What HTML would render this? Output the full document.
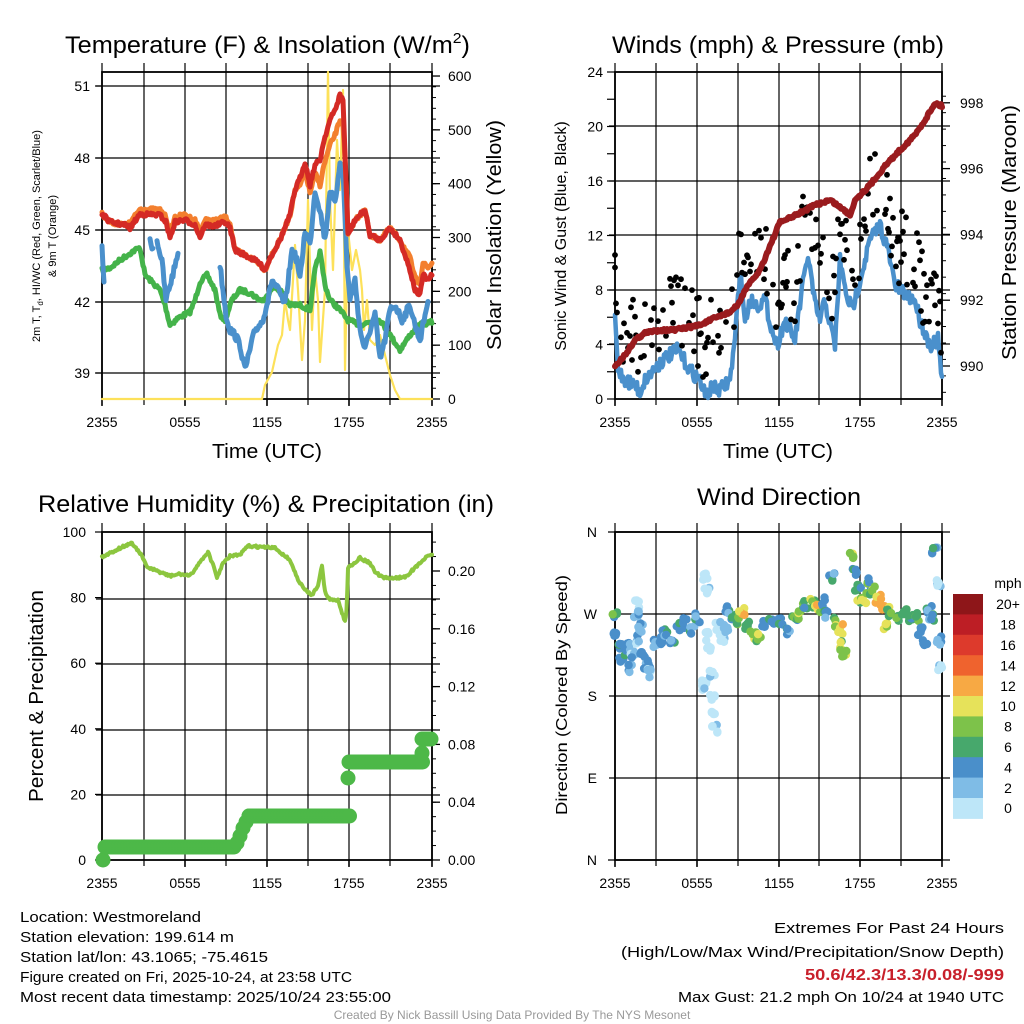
<!DOCTYPE html>
<html><head><meta charset="utf-8"><style>
html,body{margin:0;padding:0;background:#fff}
svg{display:block;font-family:"Liberation Sans",sans-serif}
</style></head><body>
<svg id="s" width="1024" height="1024" viewBox="0 0 1024 1024" xmlns="http://www.w3.org/2000/svg">
<rect width="1024" height="1024" fill="#fff"/>
<g id="g"></g>
<text x="65" y="53" font-size="24" textLength="405" lengthAdjust="spacingAndGlyphs">Temperature (F) &amp; Insolation (W/m<tspan dy="-10" font-size="15">2</tspan><tspan dy="10">)</tspan></text>
<text x="612" y="53" font-size="24" textLength="332" lengthAdjust="spacingAndGlyphs">Winds (mph) &amp; Pressure (mb)</text>
<text x="38" y="512" font-size="24" textLength="456" lengthAdjust="spacingAndGlyphs">Relative Humidity (%) &amp; Precipitation (in)</text>
<text x="697" y="505" font-size="24" textLength="164" lengthAdjust="spacingAndGlyphs">Wind Direction</text>
<text x="212" y="458" font-size="20" textLength="110" lengthAdjust="spacingAndGlyphs">Time (UTC)</text>
<text x="723" y="458" font-size="20" textLength="110" lengthAdjust="spacingAndGlyphs">Time (UTC)</text>
<text transform="translate(40,236) rotate(-90)" font-size="11" text-anchor="middle">2m T, T<tspan dy="3" font-size="8">d</tspan><tspan dy="-3">, HI/WC (Red, Green, Scarlet/Blue)</tspan></text>
<text transform="translate(56,236) rotate(-90)" font-size="11" text-anchor="middle">&amp; 9m T (Orange)</text>
<text transform="translate(501,350) rotate(-90)" font-size="20" textLength="230" lengthAdjust="spacingAndGlyphs">Solar Insolation (Yellow)</text>
<text transform="translate(566,236) rotate(-90)" font-size="16" text-anchor="middle">Sonic Wind &amp; Gust (Blue, Black)</text>
<text transform="translate(1016,360) rotate(-90)" font-size="20" textLength="255" lengthAdjust="spacingAndGlyphs">Station Pressure (Maroon)</text>
<text transform="translate(43,802) rotate(-90)" font-size="20" textLength="212" lengthAdjust="spacingAndGlyphs">Percent &amp; Precipitation</text>
<text transform="translate(567,815) rotate(-90)" font-size="16" textLength="240" lengthAdjust="spacingAndGlyphs">Direction (Colored By Speed)</text>
<g font-size="15">
<text x="20" y="922" textLength="181" lengthAdjust="spacingAndGlyphs">Location: Westmoreland</text>
<text x="20" y="942" textLength="214" lengthAdjust="spacingAndGlyphs">Station elevation: 199.614 m</text>
<text x="20" y="962" textLength="248" lengthAdjust="spacingAndGlyphs">Station lat/lon: 43.1065; -75.4615</text>
<text x="20" y="982" textLength="332" lengthAdjust="spacingAndGlyphs">Figure created on Fri, 2025-10-24, at 23:58 UTC</text>
<text x="20" y="1002" textLength="371" lengthAdjust="spacingAndGlyphs">Most recent data timestamp: 2025/10/24 23:55:00</text>
<text x="774" y="933" textLength="230" lengthAdjust="spacingAndGlyphs">Extremes For Past 24 Hours</text>
<text x="621" y="957" textLength="383" lengthAdjust="spacingAndGlyphs">(High/Low/Max Wind/Precipitation/Snow Depth)</text>
<text x="805" y="980" fill="#c8202b" font-weight="bold" font-size="16" textLength="199" lengthAdjust="spacingAndGlyphs">50.6/42.3/13.3/0.08/-999</text>
<text x="678" y="1002" textLength="326" lengthAdjust="spacingAndGlyphs">Max Gust: 21.2 mph On 10/24 at 1940 UTC</text>
</g>
<text x="512" y="1019" font-size="12" fill="#999" text-anchor="middle">Created By Nick Bassill Using Data Provided By The NYS Mesonet</text>
</svg>
<script>
var G=document.getElementById('g'),out='';
var seed=7;function R(){seed=(seed*16807)%2147483647;return (seed-1)/2147483646;}
function add(s){out+=s;}
function line(x1,y1,x2,y2,c,w){add('<line x1="'+x1+'" y1="'+y1+'" x2="'+x2+'" y2="'+y2+'" stroke="'+c+'" stroke-width="'+w+'"/>');}
function txt(x,y,t,a,fs){add('<text x="'+x+'" y="'+y+'" font-size="'+(fs||14)+'" text-anchor="'+(a||'middle')+'">'+t+'</text>');}
function interp(k,step){var p=[];for(var i=0;i<k.length-1;i++){var a=k[i],b=k[i+1];var n=Math.max(1,Math.round((b[0]-a[0])/step));for(var j=0;j<n;j++){var t=j/n;p.push([a[0]+(b[0]-a[0])*t,a[1]+(b[1]-a[1])*t]);}}p.push(k[k.length-1]);return p;}
function noisy(k,amp,step){return interp(k,step||1).map(function(p){return [p[0],p[1]+(R()-0.5)*2*amp];});}
function pl(p,c,w){add('<polyline fill="none" stroke="'+c+'" stroke-width="'+w+'" stroke-linejoin="round" stroke-linecap="round" points="'+p.map(function(q){return q[0].toFixed(1)+','+q[1].toFixed(1)}).join(' ')+'"/>');}
function dot(x,y,r,c){add('<circle cx="'+x.toFixed(1)+'" cy="'+y.toFixed(1)+'" r="'+r+'" fill="'+c+'"/>');}
var XT=['2355','0555','1155','1755','2355'];
function frame(L,T,Rr,B,hy,vx,xt){
 vx.forEach(function(x){line(x,T-9,x,B+6,'#000',1.2);});
 hy.forEach(function(y){line(L-6,y,Rr+8,y,'#000',1.2);});
 add('<rect x="'+L+'" y="'+T+'" width="'+(Rr-L)+'" height="'+(B-T)+'" fill="none" stroke="#000" stroke-width="1.8"/>');
 xt.forEach(function(x,i){line(x,B,x,B+7,'#000',1.5);txt(x,B+28,XT[i],'middle',14);});
}
var V1=[102,144,185,226,267,308,349,390,432];
// Panel 1
frame(102,72,432,399,[86,158,230,302,373],V1,[102,185,267,349,432]);
[[86,'51'],[158,'48'],[230,'45'],[302,'42'],[373,'39']].forEach(function(a){txt(90,a[0]+5,a[1],'end',14);line(95,a[0],102,a[0],'#000',1.2);});
for(var v=0;v<=600;v+=100){var y=399-v*0.5383;line(432,y,440,y,'#000',1.3);txt(448,y+5,v,'start',14);}
for(var v=0;v<=600;v+=20){var y=399-v*0.5383;line(432,y,436,y,'#000',1);}
pl([[102,399],[262,399],[265,385],[272,372],[278,345],[282,335],[285,300],[288,320],[290,330],[293,280],[295,245],[298,290],[302,360],[305,320],[308,200],[312,330],[315,270],[318,300],[320,362],[325,290],[328,72],[330,200],[333,270],[337,140],[340,190],[343,90],[345,370],[348,230],[352,270],[356,250],[360,270],[362,290],[364,330],[367,300],[370,340],[375,345],[380,335],[385,355],[390,375],[395,390],[400,399],[432,399]],'#fde15a',2.2);
pl(noisy([[102,270],[110,268],[120,260],[135,250],[140,248],[145,275],[155,285],[160,290],[165,305],[170,325],[178,318],[190,312],[195,300],[200,282],[207,275],[215,290],[220,315],[225,320],[232,300],[240,290],[250,293],[260,300],[265,300],[272,287],[280,290],[290,305],[300,305],[310,310],[315,270],[320,252],[325,285],[330,300],[340,310],[348,320],[360,325],[370,322],[380,320],[390,335],[400,350],[410,335],[420,325],[432,322]],2),'#44b34a',5);
[[[102,245],[104,285]],[[150,240],[153,248]],[[157,240],[162,262],[166,300],[170,285],[174,270],[178,252]],
[[220,265],[223,290],[226,315],[230,330],[235,335],[240,345],[245,370],[250,350],[255,330],[262,322],[268,300],[272,280],[278,290],[285,305],[292,250],[297,260],[300,280],[305,230],[310,245],[315,190],[320,210],[325,240],[330,190],[335,205],[340,160],[343,170],[347,265],[350,300],[355,280],[360,330],[365,350],[370,330],[375,315],[380,360],[385,340],[390,310],[395,305],[402,320],[410,305],[415,325],[420,340],[425,315],[428,300]]].forEach(function(k){pl(noisy(k,4),'#4a90cc',5);});
var red=[[102,214],[110,222],[125,225],[130,228],[140,214],[160,215],[166,222],[170,238],[175,222],[185,220],[195,225],[200,237],[205,225],[215,226],[225,222],[230,228],[235,250],[245,255],[258,262],[265,270],[270,258],[280,240],[290,215],[295,190],[300,178],[305,162],[310,185],[315,165],[320,160],[324,140],[330,120],[335,110],[340,95],[343,100],[346,180],[348,235],[355,220],[365,210],[370,235],[380,240],[390,228],[400,240],[410,270],[415,290],[420,295],[423,275],[428,280],[432,275]];
var org=red.map(function(p){var x=p[0],y=p[1];if(x>=130&&x<=230)y-=5;if(x>=300&&x<=345)y+=(x>=320?25:8);if(x>=405)y-=12;return [x,y];});
pl(noisy(org,2),'#f37f2e',5);
pl(noisy(red,2),'#d42a25',5);
// Panel 2
var V2=[615,656,697,738,779,819,860,901,942];
frame(615,72,942,399,[126,181,235,290,344],V2,[615,697,779,860,942]);
for(var v=0;v<=24;v+=4){var y=399-v*13.625;txt(603,y+5,v,'end',14);}
for(var v=0;v<=24;v+=2){var y=399-v*13.625;line(607,y,615,y,'#000',1.2);}
for(var v=990;v<=998;v+=2){var y=366-(v-990)*32.9;line(942,y,950,y,'#000',1.3);txt(960,y+5,v,'start',14);}
for(var v=989.2;v<=998.6;v+=0.5){var y=366-(v-990)*32.9;line(942,y,946,y,'#000',1);}
var bl=[[615,318],[618,370],[625,380],[635,385],[640,392],[645,380],[655,368],[665,358],[678,350],[690,370],[700,380],[705,395],[712,388],[720,390],[730,380],[735,340],[740,270],[745,320],[750,300],[758,305],[765,300],[772,330],[777,345],[785,320],[795,340],[802,290],[808,255],[815,305],[820,320],[825,300],[830,325],[835,345],[840,260],[845,290],[852,310],[860,280],[870,240],[880,225],[888,250],[895,285],[905,295],[915,300],[920,320],[930,345],[938,340],[942,380]];
var bp=noisy(bl,7,1);
pl(bp,'#4a90cc',4.5);
for(var i=0;i<bp.length;i+=1){if(R()<0.6){var p=bp[i];var y=p[1]-8-R()*75;if(y<80)continue;dot(p[0],y,2.9,'#000');}}
dot(615,255,2.9,'#000');
pl(noisy([[615,366],[625,355],[635,340],[645,333],[660,330],[675,330],[685,328],[700,325],[715,318],[730,312],[738,305],[745,290],[760,270],[780,222],[790,218],[800,213],[815,205],[830,200],[840,207],[850,215],[855,200],[870,185],[885,166],[900,150],[915,135],[925,120],[935,103],[942,106]],1.5),'#9a1b1e',6);
// Panel 3
frame(102,532,432,860,[599,664,730,795],V1,[102,185,267,349,432]);
for(var v=0;v<=100;v+=20){var y=860-v*3.28;txt(86,y+5,v,'end',14);line(95,y,102,y,'#000',1.2);}
for(var v=0;v<=20;v+=4){var y=860-v*14.45;line(432,y,440,y,'#000',1.3);txt(448,y+5,(v/100).toFixed(2),'start',14);}
for(var v=0;v<=22;v+=1){var y=860-v*14.45;line(432,y,436,y,'#000',1);}
pl(noisy([[102,557],[110,553],[120,548],[132,543],[140,553],[148,568],[160,572],[170,576],[180,574],[190,576],[200,562],[208,552],[213,565],[217,578],[222,565],[230,556],[240,555],[248,546],[260,547],[275,548],[290,560],[298,580],[305,590],[312,595],[318,585],[322,566],[325,592],[330,600],[338,600],[345,622],[346.5,610],[348,568],[355,562],[360,558],[370,563],[375,572],[383,578],[395,578],[405,577],[415,568],[425,558],[432,555]],1.2),'#8cc63f',4);
var pc='#4db848',pr=7.5;dot(103,860,pr,pc);
for(var x=105;x<=234;x+=1.5)dot(x,847,pr,pc);
[[237,843],[240,836],[243,828],[246,822],[249,816]].forEach(function(p){dot(p[0],p[1],pr,pc);});
for(var x=249;x<=350;x+=1.5)dot(x,816,pr,pc);
dot(348,778,pr,pc);
for(var x=349;x<=423;x+=1.5)dot(x,762,pr,pc);
dot(422,753,pr,pc);
for(var x=422;x<=431;x+=1.5)dot(x,739,pr,pc);
// Panel 4
frame(615,532,942,860,[614,696,778],V2,[615,697,779,860,942]);
line(608,532,950,532,'#000',1.2);line(608,860,950,860,'#000',1.2);
[[532,'N'],[614,'W'],[696,'S'],[778,'E'],[860,'N']].forEach(function(a){txt(597,a[0]+5,a[1],'end',14);});
var C=['#bde6f8','#7fbce6','#4a8fca','#47a86c','#7dc24a','#e6e25a','#f7a944','#ef632e','#dd3a2c','#bd1e25','#8e1619'];
var pts=[[615,614,3],[615,634,2],[620,648,2],[622,660,2],[628,648,2],[630,668,1],[633,655,1],[637,640,1],[640,627,1],[638,605,0],[636,613,1],[642,657,2],[647,665,2],[650,673,1],[656,645,1],[660,640,2],[665,633,2],[672,640,2],[678,627,2],[685,623,2],[693,630,2],[698,618,2],[705,575,0],[707,589,0],[706,637,0],[710,650,0],[705,680,0],[703,688,0],[712,673,0],[712,700,0],[713,717,0],[715,730,0],[718,627,0],[722,637,0],[725,630,1],[728,611,2],[733,618,3],[737,620,4],[742,613,5],[748,625,3],[752,636,4],[758,637,4],[765,622,2],[772,620,2],[780,620,2],[787,630,2],[795,618,3],[800,615,4],[805,605,3],[812,603,4],[818,608,5],[822,602,2],[826,613,2],[832,577,2],[836,622,4],[840,629,5],[843,646,4],[845,655,4],[853,555,4],[855,573,2],[858,586,3],[860,600,4],[864,598,5],[868,583,3],[872,590,4],[878,600,6],[882,608,6],[886,625,5],[890,612,4],[898,620,3],[905,612,3],[910,620,3],[916,618,3],[920,630,2],[924,640,2],[929,608,2],[932,617,2],[935,552,2],[938,582,1],[940,640,1],[941,665,0]];
pts.forEach(function(p){for(var k=0;k<5;k++){var c=p[2];if(R()<0.3)c=Math.max(0,Math.min(10,c+(R()<0.5?-1:1)));dot(p[0]+(R()-0.5)*6,p[1]+(R()-0.5)*10,4.2,C[c]);}});
var cbT=594,cbH=20.4;
for(var i=0;i<11;i++){var y=cbT+i*cbH;add('<rect x="953" y="'+y.toFixed(1)+'" width="30" height="'+(cbH+0.5).toFixed(1)+'" fill="'+C[10-i]+'"/>');var lb=(10-i)*2;txt(1008,y+cbH/2+5,lb==20?'20+':lb,'middle',14);}
txt(1008,588,'mph','middle',14);
G.innerHTML=out;
</script>
</body></html>
